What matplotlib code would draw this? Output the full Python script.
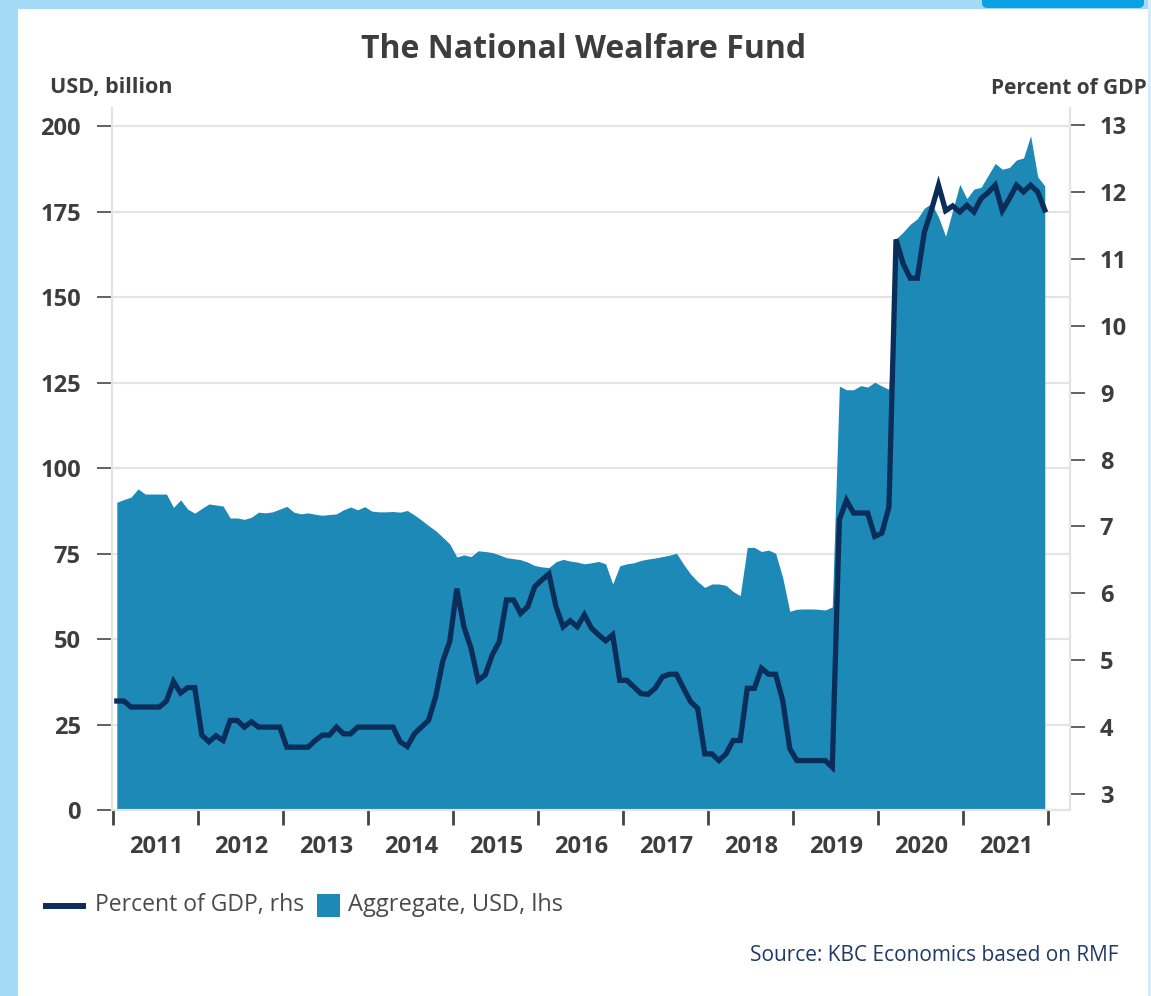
import numpy as np
import matplotlib
matplotlib.use("Agg")
import matplotlib.pyplot as plt
from matplotlib.patches import Rectangle, FancyBboxPatch
from matplotlib.lines import Line2D

plt.rcParams['font.family'] = ['Open Sans', 'DejaVu Sans']

# monthly data, Jan 2011 .. Dec 2021
usd_bn = [
    90.0, 90.8, 91.5, 93.9, 92.4, 92.4, 92.4, 92.4, 88.5, 90.7, 88.0, 86.8,
    88.2, 89.5, 89.2, 88.9, 85.4, 85.4, 85.0, 85.6, 87.1, 86.9, 87.2, 88.0,
    88.8, 87.1, 86.6, 86.9, 86.5, 86.2, 86.4, 86.6, 87.8, 88.6, 87.8, 88.7,
    87.4, 87.2, 87.2, 87.3, 87.1, 87.6, 86.3, 84.8, 83.2, 81.7, 79.8, 77.8,
    74.0, 74.6, 74.1, 75.8, 75.6, 75.3, 74.6, 73.8, 73.5, 73.2, 72.5, 71.5,
    71.1, 70.9, 72.6, 73.3, 72.8, 72.5, 72.0, 72.3, 72.7, 72.0, 66.1, 71.4,
    72.0, 72.3, 73.0, 73.4, 73.7, 74.1, 74.5, 75.1, 71.9, 69.0, 66.8, 65.1,
    66.1, 66.1, 65.7, 63.9, 62.7, 76.8, 76.8, 75.6, 76.0, 75.1, 68.0, 58.1,
    58.7, 58.8, 58.8, 58.7, 58.5, 59.4, 124.0, 122.9, 122.9, 124.1, 123.7, 125.1,
    124.0, 123.0, 167.0, 169.0, 171.3, 172.9, 176.0, 177.4, 173.4, 167.8, 175.4, 183.0,
    178.8, 181.6, 182.1, 185.6, 189.1, 187.4, 187.9, 190.1, 190.7, 197.2, 185.2, 182.5,
]
pct_gdp = [
    4.39, 4.39, 4.30, 4.30, 4.30, 4.30, 4.30, 4.39, 4.68, 4.51, 4.59, 4.59,
    3.88, 3.78, 3.87, 3.80, 4.10, 4.10, 4.00, 4.08, 4.00, 4.00, 4.00, 4.00,
    3.70, 3.70, 3.70, 3.70, 3.80, 3.88, 3.88, 4.00, 3.90, 3.90, 4.00, 4.00,
    4.00, 4.00, 4.00, 4.00, 3.78, 3.71, 3.90, 4.00, 4.10, 4.45, 4.98, 5.28,
    6.07, 5.50, 5.18, 4.70, 4.78, 5.08, 5.28, 5.90, 5.90, 5.70, 5.80, 6.10,
    6.20, 6.29, 5.80, 5.50, 5.59, 5.50, 5.68, 5.48, 5.38, 5.29, 5.38, 4.70,
    4.70, 4.60, 4.50, 4.49, 4.58, 4.75, 4.79, 4.79, 4.58, 4.38, 4.28, 3.60,
    3.60, 3.50, 3.60, 3.80, 3.80, 4.58, 4.58, 4.88, 4.79, 4.79, 4.40, 3.68,
    3.50, 3.50, 3.50, 3.50, 3.50, 3.40, 7.10, 7.39, 7.20, 7.20, 7.20, 6.85,
    6.90, 7.29, 11.29, 10.93, 10.71, 10.71, 11.40, 11.73, 12.10, 11.72, 11.79, 11.70,
    11.80, 11.70, 11.90, 11.99, 12.10, 11.72, 11.90, 12.10, 12.00, 12.10, 12.00, 11.73,
]
years = list(range(2011, 2022))
left_ticks = [0, 25, 50, 75, 100, 125, 150, 175, 200]
right_ticks = list(range(3, 14))

t = 2011 + (np.arange(len(usd_bn)) + 0.5) / 12

W, H = 1151, 996
fig = plt.figure(figsize=(W / 100, H / 100), dpi=100)
fig.patch.set_facecolor('white')

# decorative frame
fig.add_artist(Rectangle((0, 0), 18 / W, 1, transform=fig.transFigure, color='#a4daf6', lw=0))
fig.add_artist(Rectangle((0, 1 - 9 / H), 1, 9 / H, transform=fig.transFigure, color='#a4daf6', lw=0))
fig.add_artist(Rectangle((1148 / W, 0), 3 / W, 1, transform=fig.transFigure, color='#d6ecf8', lw=0))
fig.add_artist(FancyBboxPatch((982 / W, 1 - 8 / H), 162 / W, 14 / H, boxstyle='round,pad=0,rounding_size=0.005',
                              transform=fig.transFigure, color='#0ba0e3', lw=0))

ax = fig.add_axes([112 / W, 1 - 810 / H, (1070 - 112) / W, (810 - 108) / H])
ax2 = ax.twinx()

ax.fill_between(t, 0, usd_bn, color='#1d89b7', lw=0, zorder=2)
ax2.plot(t, pct_gdp, color='#0b2d5a', lw=3.8, solid_joinstyle='miter', zorder=3)

ax.set_xlim(2010.985, 2022.255)
ax.set_ylim(0, 205.3)
ax2.set_ylim(2.761, 13.254)

gray = '#3d3d3d'
ax.set_axisbelow(True)
ax.grid(axis='y', color='#e4e4e4', lw=1.5)
ax.set_yticks(left_ticks)
ax2.set_yticks(right_ticks)
ax.tick_params(axis='y', length=10.5, width=1.3, color='#555555', pad=12,
               labelsize=17, labelcolor=gray)
ax2.tick_params(axis='y', length=10.5, width=1.3, color='#555555', pad=11,
                labelsize=17, labelcolor=gray)
for lab in ax.get_yticklabels() + ax2.get_yticklabels():
    lab.set_fontweight('bold')

ax.set_xticks(years + [2022])
ax.set_xticklabels([])
ax.set_xticks([y + 0.5 for y in years], minor=True)
ax.set_xticklabels([str(y) for y in years], minor=True, fontsize=17, fontweight='bold', color=gray)
ax.tick_params(axis='x', which='major', length=11, width=2, color='#444444', direction='out')
ax.tick_params(axis='x', which='minor', length=0, pad=18)

for a in (ax, ax2):
    a.spines['top'].set_visible(False)
    for s in ('left', 'right', 'bottom'):
        a.spines[s].set_color('#e4e4e4')
        a.spines[s].set_linewidth(1.5)

fig.text(584 / W, 1 - 49 / H, 'The National Wealfare Fund', ha='center', va='center',
         fontsize=23, fontweight='bold', color=gray)
fig.text(50 / W, 1 - 88 / H, 'USD, billion', ha='left', va='center',
         fontsize=15.5, fontweight='bold', color=gray)
fig.text(1147 / W, 1 - 88 / H, 'Percent of GDP', ha='right', va='center',
         fontsize=15, fontweight='bold', color=gray)

# legend
fig.add_artist(Line2D([43 / W, 86 / W], [1 - 906 / H, 1 - 906 / H], transform=fig.transFigure,
                      color='#0b2d5a', lw=4.3, solid_capstyle='butt'))
fig.text(95 / W, 1 - 905 / H, 'Percent of GDP, rhs', ha='left', va='center', fontsize=16.5, color='#4a4a4a')
fig.add_artist(Rectangle((317 / W, 1 - 917 / H), 23 / W, 23 / H, transform=fig.transFigure,
                         color='#1d89b7', lw=0))
fig.text(348 / W, 1 - 905 / H, 'Aggregate, USD, lhs', ha='left', va='center', fontsize=17, color='#4a4a4a')

fig.text(1119 / W, 1 - 955 / H, 'Source: KBC Economics based on RMF', ha='right', va='center',
         fontsize=15, color='#1f3a68')

fig.savefig('out.png', dpi=100, facecolor='white')
